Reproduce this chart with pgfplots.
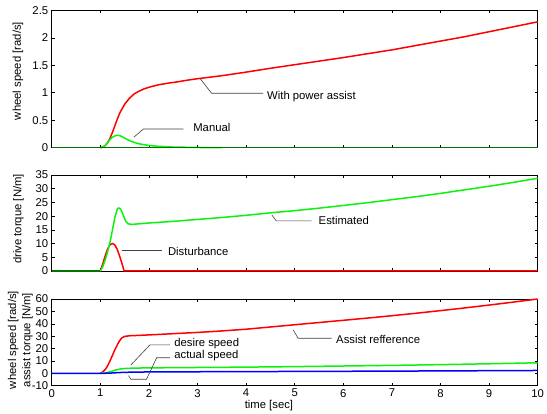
\documentclass[border=0pt]{standalone}
\usepackage{pgfplots}
\pgfplotsset{compat=1.18}
\usepackage{fontspec}
\setmainfont{Liberation Sans}
\definecolor{cred}{rgb}{1,0,0}
\definecolor{cgreen}{rgb}{0.05,0.95,0.05}
\definecolor{cdkgreen}{rgb}{0,0.45,0}
\definecolor{cblue}{rgb}{0,0,1}
\newcommand{\fs}{\fontsize{11.3bp}{13bp}\selectfont}
\pgfplotsset{myaxis/.style={
  scale only axis, width=486bp, xmin=0, xmax=10, xtick={0,...,10},
  anchor=south west, clip=false,
  axis line style={line width=0.8bp},
  tick style={black, line width=0.5bp}, major tick length=3bp,
  tick label style={font=\fs}, label style={font=\fs},
  /pgf/number format/assume math mode=true,
  every axis plot/.append style={line width=1.5bp},
}}
\tikzset{lead/.style={black!75, line width=0.6bp}, ann/.style={anchor=base west, inner sep=0pt, font=\fs}}
\begin{document}
\begin{tikzpicture}
\useasboundingbox (0,0) rectangle (547bp,414bp);
% ---------------- panel 1
\begin{axis}[myaxis, at={(51.7bp,266.3bp)}, height=137.4bp,
  ymin=0, ymax=2.5, ytick={0,0.5,1,1.5,2,2.5}, xticklabels={},
  ylabel={wheel speed [rad/s]},
  ylabel style={at={(axis description cs:-0.0693,0.558)}, anchor=center}]
\addplot[cred] coordinates {(1.0,0) (1.05,0.01) (1.1,0.04) (1.15,0.09) (1.2,0.17) (1.25,0.28) (1.3,0.40) (1.35,0.52) (1.4,0.63) (1.5,0.79) (1.6,0.90) (1.7,0.98) (1.8,1.03) (1.9,1.07) (2.0,1.10) (2.2,1.145) (2.4,1.175) (2.6,1.20) (2.8,1.23) (3.0,1.255) (3.5,1.31) (4.0,1.375) (4.5,1.445) (5.0,1.51) (5.5,1.575) (6.0,1.64) (6.5,1.71) (7.0,1.78) (7.5,1.86) (8.0,1.94) (8.5,2.02) (9.0,2.11) (9.5,2.20) (10,2.29)};
\addplot[cgreen] coordinates {(1.0,0) (1.05,0.01) (1.1,0.04) (1.15,0.09) (1.2,0.15) (1.25,0.19) (1.3,0.215) (1.35,0.225) (1.4,0.22) (1.45,0.20) (1.5,0.175) (1.6,0.13) (1.7,0.095) (1.8,0.07) (1.9,0.055) (2.0,0.04) (2.2,0.025) (2.5,0.012) (3.0,0.004) (3.5,0)};
\addplot[cdkgreen] coordinates {(0,0) (10,0)};
\draw[lead] (axis cs:3.05,1.263) -- (axis cs:3.29,0.99) -- (axis cs:4.35,0.99);
\node[ann] at (axis cs:4.43,0.868) {With power assist};
\draw[lead] (axis cs:1.69,0.19) -- (axis cs:1.885,0.34) -- (axis cs:2.71,0.34);
\node[ann] at (axis cs:2.91,0.291) {Manual};
\end{axis}
% ---------------- panel 2
\begin{axis}[myaxis, at={(51.7bp,143bp)}, height=96bp,
  ymin=0, ymax=35, ytick={0,5,...,35}, xticklabels={},
  ylabel={drive torque [N/m]},
  ylabel style={at={(axis description cs:-0.0683,0.542)}, anchor=center}]
\addplot[cred] coordinates {(0,0) (1.0,0) (1.05,2.5) (1.1,5.5) (1.15,8) (1.2,9.6) (1.25,10) (1.3,9.5) (1.35,7.8) (1.4,5.3) (1.45,2.5) (1.49,0) (10,0)};
\addplot[cgreen] coordinates {(1.0,0) (1.05,1.5) (1.1,4) (1.15,7) (1.2,10.5) (1.25,15) (1.3,19.5) (1.35,22.6) (1.38,23) (1.42,22.5) (1.47,20.5) (1.52,18.3) (1.57,17.2) (1.65,17.0) (1.8,17.2) (2.0,17.5) (2.5,18.1) (3.0,18.8) (3.5,19.5) (4.0,20.3) (4.5,21.2) (5.0,22.0) (5.5,22.9) (6.0,23.9) (6.5,24.9) (7.0,26.0) (7.5,27.1) (8.0,28.3) (8.5,29.6) (9.0,30.9) (9.5,32.3) (10,33.8)};
\addplot[cdkgreen] coordinates {(0,0) (1.0,0)};
\draw[lead] (axis cs:1.44,7.4) -- (axis cs:2.26,7.4);
\node[ann] at (axis cs:2.39,5.83) {Disturbance};
\draw[lead] (axis cs:4.53,20.4) -- (axis cs:4.62,18.3) -- (axis cs:5.35,18.3);
\node[ann] at (axis cs:5.49,17.0) {Estimated};
\end{axis}
% ---------------- panel 3
\begin{axis}[myaxis, at={(51.7bp,28.3bp)}, height=86.7bp,
  ymin=-10, ymax=60, ytick={-10,0,...,60},
  ylabel={wheel speed [rad/s]\\assist torque [N/m]},
  ylabel style={at={(axis description cs:-0.0644,0.527)}, anchor=center, align=center, font=\fontsize{11.3bp}{14.2bp}\selectfont},
  xlabel={time [sec]},
  xlabel style={at={(axis description cs:0.447,0)}, anchor=center, yshift=-20.3bp}]
\addplot[cred] coordinates {(1.0,0) (1.05,1) (1.1,3) (1.15,6) (1.2,10) (1.25,14.5) (1.3,19) (1.35,23) (1.4,26.5) (1.45,28.8) (1.5,29.8) (1.6,30.3) (2.0,31) (2.5,32) (3.0,33) (3.5,34.2) (4.0,35.6) (4.5,37.4) (5.0,39.2) (5.5,41) (6.0,42.8) (6.5,44.6) (7.0,46.5) (7.5,48.5) (8.0,50.6) (8.5,52.8) (9.0,55.1) (9.5,57.5) (10,60)};
\addplot[cgreen] coordinates {(1.0,0) (1.1,0.3) (1.2,1.2) (1.3,2.5) (1.4,3.4) (1.5,3.9) (1.7,4.2) (2,4.4) (3,4.7) (4,5.0) (5,5.4) (6,5.9) (7,6.4) (8,7.0) (9,7.7) (10,8.5)};
\addplot[cblue] coordinates {(0,0) (1.0,0) (1.1,0.04) (1.2,0.17) (1.3,0.40) (1.4,0.63) (1.5,0.79) (1.7,0.98) (2.0,1.10) (2.5,1.19) (3.0,1.255) (4.0,1.375) (5.0,1.51) (6.0,1.64) (7.0,1.78) (8.0,1.94) (9.0,2.11) (10,2.29)};
\draw[lead] (axis cs:4.97,35.0) -- (axis cs:5.07,28.3) -- (axis cs:5.76,28.3);
\node[ann] at (axis cs:5.85,23.7) {Assist refference};
\draw[lead] (axis cs:1.63,6.7) -- (axis cs:2.02,22.9) -- (axis cs:2.43,22.9);
\node[ann] at (axis cs:2.52,21.8) {desire speed};
\draw[lead] (axis cs:1.58,-1.9) -- (axis cs:1.63,-4.8) -- (axis cs:1.95,-4.8) -- (axis cs:2.16,12.6) -- (axis cs:2.43,12.6);
\node[ann] at (axis cs:2.52,11.6) {actual speed};
\end{axis}
\end{tikzpicture}
\end{document}
